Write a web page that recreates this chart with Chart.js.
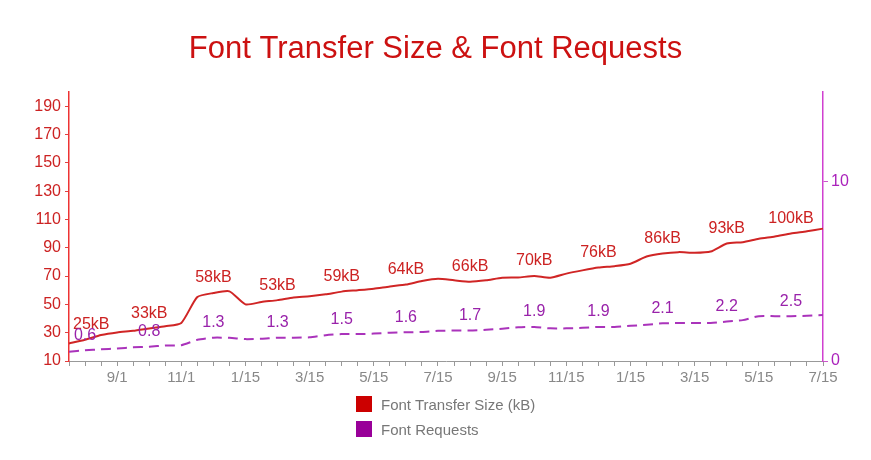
<!DOCTYPE html>
<html>
<head>
<meta charset="utf-8">
<script src="https://cdn.jsdelivr.net/npm/chart.js@4/dist/chart.umd.min.js"></script>
<style>
  html, body { margin: 0; padding: 0; background: #fff; }
  #wrap { position: relative; width: 871px; height: 460px; }
  #legend { position: absolute; left: 356px; top: 396px; font-family: "Liberation Sans", Arial, sans-serif; font-size: 15px; color: #777; }
  .item { display: flex; align-items: center; height: 16px; margin-bottom: 9px; }
  .sw { width: 16px; height: 16px; margin-right: 9px; }
</style>
</head>
<body>
<div id="wrap">
  <canvas id="c" width="871" height="460"></canvas>
  <div id="legend"></div>
</div>
<script>
const dates = ['7/15','8/1','8/15','9/1','9/15','10/1','10/15','11/1','11/15','12/1','12/15','1/15',
  '2/1','2/15','3/1','3/15','4/1','4/15','5/1','5/15','6/1','6/15','7/1','7/15',
  '8/1','8/15','9/1','9/15','10/1','10/15','11/1','11/15','12/1','12/15','1/1','1/15',
  '2/1','2/15','3/1','3/15','4/1','4/15','5/1','5/15','6/1','6/15','7/1','7/15'];
const fontTransferKB = [22.4,25,28.3,30.2,31.3,33,34.6,36.9,55.2,58,59.2,50,
  51.7,53,54.8,55.7,57.1,59,60,61.1,62.7,64,66.5,68.1,
  67,66,67,68.8,69,70,68.8,71.7,74,76,77,78.7,
  83.8,86,86.9,86.4,87.3,93,93.9,96.3,97.9,100,101.6,103.5];
const fontRequests = [0.52,0.6,0.65,0.7,0.76,0.8,0.86,0.88,1.18,1.3,1.29,1.22,
  1.24,1.3,1.3,1.32,1.44,1.5,1.5,1.53,1.58,1.6,1.62,1.68,
  1.7,1.7,1.74,1.8,1.88,1.9,1.82,1.82,1.85,1.9,1.9,1.96,
  2.02,2.1,2.12,2.12,2.12,2.2,2.28,2.5,2.5,2.5,2.52,2.56];
const leftTicks = [10,30,50,70,90,110,130,150,170,190];
const rightTicks = [0,10];
const seriesNames = ['Font Transfer Size (kB)', 'Font Requests'];

const FONT = '"Liberation Sans", Arial, sans-serif';
const RED = '#d02525';
const PURPLE = '#aa33bb';

const pointLabels = {
  id: 'pointLabels',
  afterDatasetsDraw(chart) {
    const ctx = chart.ctx;
    const area = chart.chartArea;
    chart.data.datasets.forEach((ds, di) => {
      const meta = chart.getDatasetMeta(di);
      ctx.save();
      ctx.font = '16px ' + FONT;
      ctx.fillStyle = ds.labelColor;
      ctx.textAlign = 'center';
      ctx.textBaseline = 'middle';
      meta.data.forEach((pt, i) => {
        if (i % 4 !== 1) return;
        const txt = ds.fmt(ds.data[i]);
        const w = ctx.measureText(txt).width;
        let x = pt.x;
        if (x - w / 2 < area.left + 4) x = area.left + 4 + w / 2;
        if (x + w / 2 > area.right - 4) x = area.right - 4 - w / 2;
        ctx.fillText(txt, x, pt.y - 15);
      });
      ctx.restore();
    });
  }
};

const chart = new Chart(document.getElementById('c'), {
  type: 'line',
  data: {
    labels: dates,
    datasets: [
      { label: seriesNames[0], data: fontTransferKB, yAxisID: 'y', borderColor: RED, backgroundColor: '#cc0000',
        borderWidth: 2, pointRadius: 0, tension: 0.2, labelColor: '#cc2222', fmt: v => Math.round(v) + 'kB' },
      { label: seriesNames[1], data: fontRequests, yAxisID: 'y2', borderColor: PURPLE, backgroundColor: '#990099',
        borderWidth: 2, borderDash: [10, 6], pointRadius: 0, tension: 0.2, labelColor: '#9922aa', fmt: v => v.toFixed(1) }
    ]
  },
  options: {
    responsive: false,
    animation: false,
    layout: { padding: { left: 0, right: 0, top: 0, bottom: 0 } },
    plugins: {
      legend: { display: false },
      tooltip: { enabled: false },
      title: {
        display: true,
        text: 'Font Transfer Size & Font Requests',
        color: '#cc1111',
        font: { family: FONT, size: 31, weight: 'normal' },
        padding: { top: 30.7, bottom: 24.1 }
      }
    },
    scales: {
      x: {
        type: 'category',
        offset: false,
        afterFit: s => { s.height = 99; },
        border: { color: '#999', width: 1 },
        grid: { display: true, drawOnChartArea: false, drawTicks: true, tickLength: 5, color: '#999' },
        ticks: {
          autoSkip: false, maxRotation: 0, minRotation: 0, padding: 3,
          color: '#888', font: { family: FONT, size: 15 },
          callback: (v, i) => (i % 4 === 3 ? dates[i] : '')
        }
      },
      y: {
        position: 'left',
        min: 10, max: 200,
        afterFit: s => { s.width = 69; },
        afterBuildTicks: s => { s.ticks = leftTicks.map(v => ({ value: v })); },
        border: { display: true, color: '#ee3333', width: 1.5 },
        grid: { display: true, drawOnChartArea: false, drawTicks: true, tickLength: 4, color: '#e04040' },
        ticks: { color: '#cc2222', padding: 4, font: { family: FONT, size: 16 } }
      },
      y2: {
        position: 'right',
        min: 0, max: 15,
        afterFit: s => { s.width = 48; },
        afterBuildTicks: s => { s.ticks = rightTicks.map(v => ({ value: v })); },
        border: { display: true, color: '#d040d0', width: 1.5 },
        grid: { display: true, drawOnChartArea: false, drawTicks: true, tickLength: 5, color: '#cc55cc' },
        ticks: { color: '#aa22bb', padding: 3, font: { family: FONT, size: 16 } }
      }
    }
  },
  plugins: [pointLabels]
});

const legend = document.getElementById('legend');
chart.data.datasets.forEach(ds => {
  const item = document.createElement('div');
  item.className = 'item';
  const sw = document.createElement('div');
  sw.className = 'sw';
  sw.style.background = ds.backgroundColor;
  const t = document.createElement('span');
  t.textContent = ds.label;
  item.appendChild(sw);
  item.appendChild(t);
  legend.appendChild(item);
});
</script>
</body>
</html>
